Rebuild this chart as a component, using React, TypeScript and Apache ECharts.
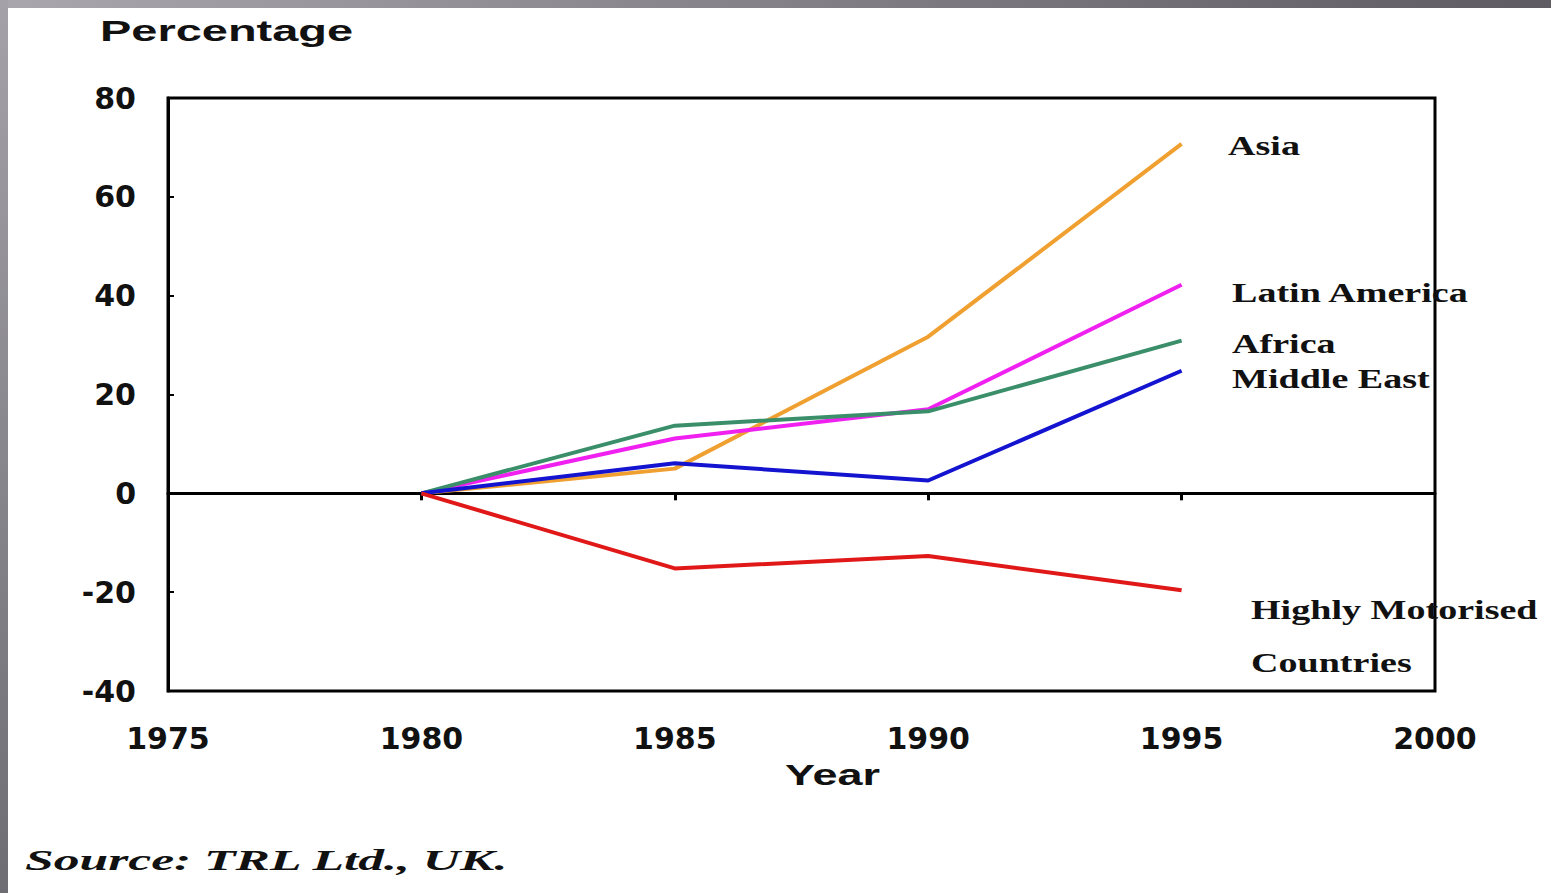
import React, { useEffect, useRef } from "react";
import * as echarts from "echarts";

const years = [1980, 1985, 1990, 1995];
const xTicks = [1975, 1980, 1985, 1990, 1995, 2000];
const asia = [0, 5.0, 31.7, 70.7];
const latinAmerica = [0, 11.1, 17.0, 42.2];
const africa = [0, 13.7, 16.6, 30.9];
const middleEast = [0, 6.1, 2.6, 24.8];
const highlyMotorised = [0, -15.2, -12.7, -19.6];

const seriesNames = ["Asia", "Latin America", "Africa", "Middle East", "Highly Motorised Countries"];
const seriesValues = [asia, latinAmerica, africa, middleEast, highlyMotorised];
const seriesColors = ["#F0A030", "#F020F0", "#3A8F6A", "#1414D0", "#E01818"];

const serifLabel = (text: string, x: number, y: number) => ({
  type: "text",
  x,
  y,
  scaleX: 1.41,
  style: {
    text,
    font: "bold 27px 'Liberation Serif', 'Times New Roman', serif",
    fill: "#111",
    textAlign: "left",
    textVerticalAlign: "middle",
  },
  z: 10,
});

export default function App() {
  const ref = useRef<HTMLDivElement>(null);
  useEffect(() => {
    if (!ref.current) return;
    const chart = echarts.init(ref.current, undefined, { renderer: "svg" });
    const axisFont = {
      fontFamily: "'DejaVu Sans', sans-serif",
      fontWeight: "bold" as const,
      fontSize: 30,
      color: "#111",
    };
    chart.setOption({
      animation: false,
      backgroundColor: "#ffffff",
      grid: {
        left: 168,
        right: 116,
        top: 98,
        bottom: 202,
        show: true,
        borderColor: "#000",
        borderWidth: 3,
        backgroundColor: "transparent",
      },
      xAxis: [
        {
          type: "value",
          min: 1975,
          max: 2000,
          interval: 5,
          position: "bottom",
          axisLine: { show: false, onZero: false },
          axisTick: { show: false },
          splitLine: { show: false },
          axisLabel: { ...axisFont, margin: 32, customValues: xTicks, formatter: (v: number) => String(v) },
        },
        {
          type: "value",
          min: 1975,
          max: 2000,
          interval: 5,
          position: "bottom",
          axisLine: { show: true, onZero: true, lineStyle: { color: "#000", width: 3 } },
          axisTick: { show: true, inside: false, length: 7, customValues: years, lineStyle: { color: "#000", width: 3 } },
          axisLabel: { show: false },
          splitLine: { show: false },
        },
      ],
      yAxis: {
        type: "value",
        min: -40,
        max: 80,
        interval: 20,
        axisLine: { show: true, lineStyle: { color: "#000", width: 3 } },
        axisTick: { show: true, inside: true, length: 6, lineStyle: { color: "#000", width: 2 } },
        splitLine: { show: false },
        axisLabel: { ...axisFont, margin: 32 },
      },
      series: seriesNames.map((name, i) => ({
        name,
        type: "line",
        xAxisIndex: 0,
        data: years.map((y, j) => [y, seriesValues[i][j]]),
        showSymbol: false,
        symbol: "none",
        lineStyle: { color: seriesColors[i], width: 4 },
        itemStyle: { color: seriesColors[i] },
        z: 3,
      })),
      graphic: [
        {
          type: "rect",
          shape: { x: 0, y: 0, width: 1551, height: 8 },
          style: {
            fill: {
              type: "linear", x: 0, y: 0, x2: 1, y2: 0,
              colorStops: [
                { offset: 0, color: "#A9A6AE" },
                { offset: 1, color: "#5E5B62" },
              ],
            },
          },
          z: 20,
        },
        {
          type: "rect",
          shape: { x: 0, y: 0, width: 8, height: 893 },
          style: {
            fill: {
              type: "linear", x: 0, y: 0, x2: 0, y2: 1,
              colorStops: [
                { offset: 0, color: "#A4A1A9" },
                { offset: 1, color: "#6E6D73" },
              ],
            },
          },
          z: 20,
        },
        {
          type: "text",
          x: 100,
          y: 31,
          scaleX: 1.62,
          style: {
            text: "Percentage",
            font: "bold 29px 'Liberation Sans', Arial, sans-serif",
            fill: "#111",
            textAlign: "left",
            textVerticalAlign: "middle",
          },
        },
        {
          type: "text",
          x: 785,
          y: 774,
          scaleX: 1.5,
          style: {
            text: "Year",
            font: "bold 30px 'Liberation Sans', Arial, sans-serif",
            fill: "#111",
            textAlign: "left",
            textVerticalAlign: "middle",
          },
        },
        {
          type: "text",
          x: 25,
          y: 860,
          scaleX: 1.72,
          style: {
            text: "Source: TRL Ltd., UK.",
            font: "italic bold 30px 'Liberation Serif', 'Times New Roman', serif",
            fill: "#111",
            textAlign: "left",
            textVerticalAlign: "middle",
          },
        },
        serifLabel("Asia", 1228, 146),
        serifLabel("Latin America", 1232, 293),
        serifLabel("Africa", 1232, 344),
        serifLabel("Middle East", 1232, 379),
        serifLabel("Highly Motorised", 1251, 610),
        serifLabel("Countries", 1251, 663),
      ],
    });
    return () => chart.dispose();
  }, []);
  return (
    <div
      ref={ref}
      style={{ position: "absolute", left: 0, top: 0, width: 1551, height: 893, background: "#fff" }}
    />
  );
}
